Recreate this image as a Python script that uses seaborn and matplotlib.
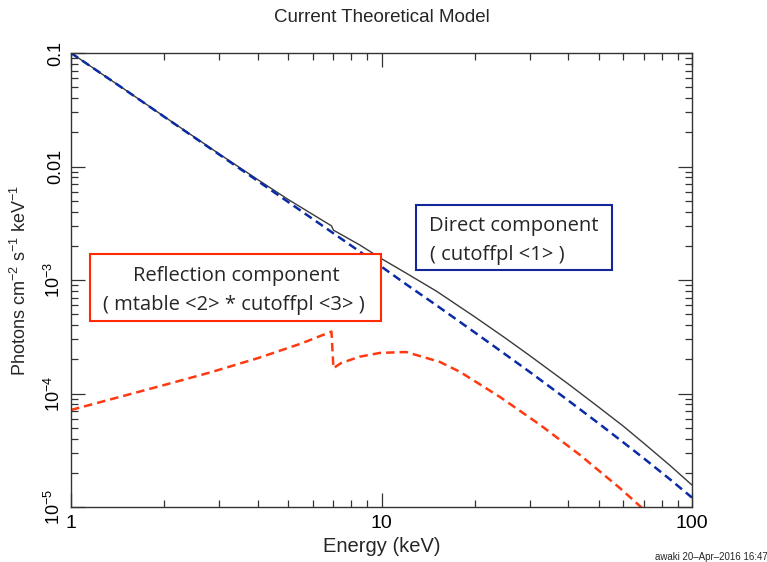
import matplotlib
matplotlib.use("Agg")
import matplotlib.pyplot as plt
import seaborn as sns
import pandas as pd
from matplotlib.ticker import LogLocator, FixedLocator, FixedFormatter, NullFormatter
from matplotlib.patches import Rectangle

# ---- data ----
direct_E = [1, 1.5, 2, 3, 4, 5, 7, 10, 12, 15, 20, 25, 30, 40, 50, 60, 70, 85, 100]
direct_F = [0.1, 0.0470, 0.02732, 0.01276, 7.44e-3, 4.88e-3, 2.58e-3, 1.31e-3,
            9.17e-4, 6.01e-4, 3.44e-4, 2.22e-4, 1.55e-4, 8.66e-5, 5.46e-5, 3.72e-5,
            2.68e-5, 1.75e-5, 1.21e-5]

refl_E = [1, 2, 2.8, 4, 5.5, 6.9, 7.0, 7.4, 8.5, 9.9, 12, 15.4, 17.9, 24.1, 32.4,
          43.6, 58.7, 68.5, 80]
refl_F = [7.16e-5, 1.19e-4, 1.53e-4, 2.05e-4, 2.75e-4, 3.51e-4, 1.67e-4, 1.85e-4,
          2.11e-4, 2.28e-4, 2.32e-4, 1.90e-4, 1.55e-4, 9.3e-5, 5.3e-5, 2.87e-5,
          1.46e-5, 1.0e-5, 6.3e-6]

total_E = [1, 1.5, 2, 3, 4, 5, 6.9, 7.0, 8.5, 10, 12, 15, 20, 25, 30, 40, 50, 60,
           70, 85, 100]
total_F = [0.1001, 0.0471, 0.02744, 0.01292, 7.64e-3, 5.13e-3, 3.0e-3, 2.75e-3,
           2.04e-3, 1.54e-3, 1.15e-3, 8.0e-4, 4.72e-4, 3.09e-4, 2.16e-4, 1.21e-4,
           7.6e-5, 5.17e-5, 3.64e-5, 2.32e-5, 1.56e-5]

x_ticks = [1, 10, 100]
x_ticklabels = ["1", "10", "100"]
y_ticks = [1e-5, 1e-4, 1e-3, 1e-2, 1e-1]
y_ticklabels = ["10$^{-5}$", "10$^{-4}$", "10$^{-3}$", "0.01", "0.1"]

title = "Current Theoretical Model"
xlabel = "Energy (keV)"
ylabel = "Photons cm$^{-2}$ s$^{-1}$ keV$^{-1}$"
refl_text = ["Reflection component", "( mtable <2> * cutoffpl <3> )"]
direct_text = ["Direct component", "( cutoffpl <1> )"]
stamp = "awaki 20\u2013Apr\u20132016 16:47"

# ---- plotting ----
sns.set_style("ticks")
plt.rcParams["font.family"] = ["Liberation Sans", "DejaVu Sans"]
plt.rcParams["mathtext.fontset"] = "custom"
plt.rcParams["mathtext.rm"] = "Liberation Sans"
plt.rcParams["mathtext.it"] = "Liberation Sans"

fig = plt.figure(figsize=(7.67, 5.62), dpi=100)
ax = fig.add_axes([71/767, 1 - 507/562, (692 - 71)/767, (507 - 53)/562])

df_t = pd.DataFrame({"E": total_E, "F": total_F})
df_d = pd.DataFrame({"E": direct_E, "F": direct_F})
df_r = pd.DataFrame({"E": refl_E, "F": refl_F})

sns.lineplot(data=df_t, x="E", y="F", ax=ax, color="#3a3a3a", lw=1.0,
             estimator=None, sort=False)
sns.lineplot(data=df_d, x="E", y="F", ax=ax, color="#0b2aa6", lw=1.8,
             estimator=None, sort=False, linestyle=(0, (3.4, 2.0)))
sns.lineplot(data=df_r, x="E", y="F", ax=ax, color="#ff3a12", lw=1.8,
             estimator=None, sort=False, linestyle=(0, (3.4, 2.0)))

ax.set_xscale("log")
ax.set_yscale("log")
ax.set_xlim(1, 100)
ax.set_ylim(1e-5, 0.1)

ax.xaxis.set_major_locator(FixedLocator(x_ticks))
ax.xaxis.set_major_formatter(FixedFormatter(x_ticklabels))
ax.xaxis.set_minor_locator(LogLocator(base=10, subs=range(2, 10)))
ax.xaxis.set_minor_formatter(NullFormatter())
ax.yaxis.set_major_locator(FixedLocator(y_ticks))
ax.yaxis.set_major_formatter(FixedFormatter(y_ticklabels))
ax.yaxis.set_minor_locator(LogLocator(base=10, subs=range(2, 10)))
ax.yaxis.set_minor_formatter(NullFormatter())

ax.tick_params(which="both", direction="in", top=True, right=True, colors="#333333",
               labelcolor="black", width=0.9)
ax.tick_params(which="major", length=10)
ax.tick_params(which="minor", length=5)
ax.tick_params(axis="x", which="major", pad=6, labelsize=14)
ax.tick_params(axis="y", which="major", pad=5, labelsize=13)
for lab in ax.get_yticklabels():
    lab.set_rotation(90)
    lab.set_va("center")
for s in ax.spines.values():
    s.set_color("#333333")
    s.set_linewidth(1.0)

ax.set_xlabel(xlabel, fontsize=14.5, labelpad=3)
ax.set_ylabel(ylabel, fontsize=13, labelpad=10)
fig.text(0.5 - 0.002, 1 - 17/562, title, ha="center", va="center", fontsize=13.5)


def box(x0, y0, x1, y1, color):
    r = Rectangle((x0/767, 1 - y1/562), (x1 - x0)/767, (y1 - y0)/562,
                  transform=fig.transFigure, facecolor="white", edgecolor=color,
                  lw=1.5, zorder=5)
    fig.add_artist(r)


box(90, 254, 381, 321, "#ff2a00")
box(416, 205, 612, 270, "#13279a")
tf = ["Open Sans", "DejaVu Sans"]
fs = 14.5
fig.text(236/767, 1 - 276/562, refl_text[0], ha="center", va="center",
         fontsize=fs, family=tf, zorder=6)
fig.text(234/767, 1 - 305/562, refl_text[1], ha="center", va="center",
         fontsize=fs, family=tf, zorder=6)
fig.text(514/767, 1 - 226/562, direct_text[0], ha="center", va="center",
         fontsize=fs, family=tf, zorder=6)
fig.text(497/767, 1 - 255/562, direct_text[1], ha="center", va="center",
         fontsize=fs, family=tf, zorder=6)

fig.text(655/767, 1 - 557/562, stamp, ha="left", va="center", fontsize=7)

fig.savefig("out.png", dpi=100)
